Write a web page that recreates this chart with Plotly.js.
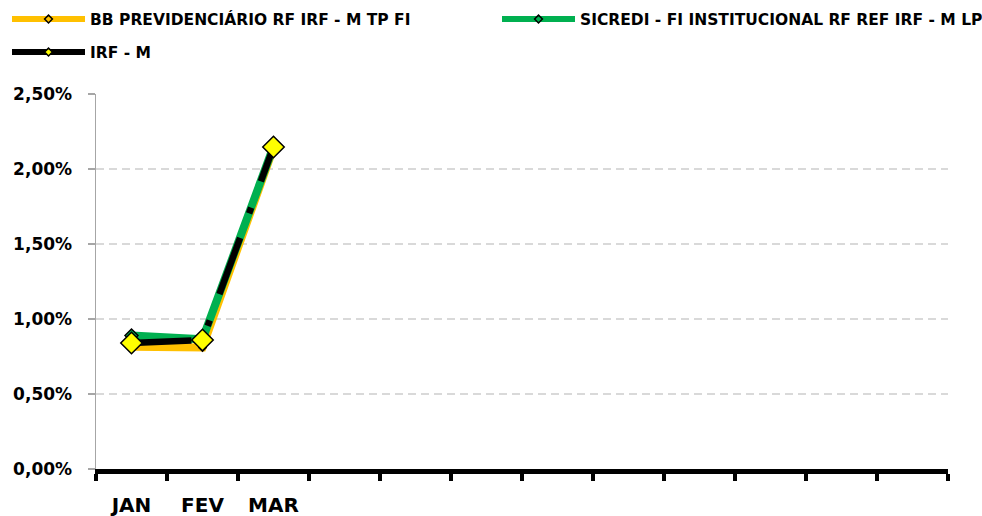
<!DOCTYPE html>
<html><head><meta charset="utf-8">
<script src="https://cdn.plot.ly/plotly-3.0.1.min.js"></script>
<style>html,body{margin:0;padding:0;background:#fff}#chart{width:982px;height:516px}</style>
</head><body><div id="chart"></div>
<script>
const months = ['JAN','FEV','MAR','ABR','MAI','JUN','JUL','AGO','SET','OUT','NOV','DEZ'];
const tickLabels = ['JAN','FEV','MAR','','','','','','','','',''];
const dataMonths = ['JAN','FEV','MAR'];
const bbPrev = [0.00815, 0.0081, 0.0214];
const sicredi = [0.0089, 0.00865, 0.0215];
const irfM = [0.0084, 0.0086, 0.02147];
const seriesNames = ['BB PREVIDENCIÁRIO RF IRF - M TP FI', 'SICREDI - FI INSTITUCIONAL RF REF IRF - M LP', 'IRF - M'];
const yTicks = [0, 0.005, 0.01, 0.015, 0.02, 0.025];

const colors = ['#FFC000', '#00B050', '#000000'];
const markerFill = ['#FFC000', '#00B050', '#FFFF00'];
const dashIRF = '60px,26px,6px,28px';

const traces = [
  {x: dataMonths, y: bbPrev, name: seriesNames[0], mode: 'lines+markers', showlegend: false,
   line: {color: colors[0], width: 8},
   marker: {symbol: 'diamond', size: 6, color: markerFill[0], line: {color: '#000', width: 1.2}}},
  {x: dataMonths, y: sicredi, name: seriesNames[1], mode: 'lines+markers', showlegend: false,
   line: {color: colors[1], width: 8},
   marker: {symbol: 'diamond', size: 10, color: markerFill[1], line: {color: '#000', width: 1.5}}},
  {x: dataMonths, y: irfM, name: seriesNames[2], mode: 'lines+markers', showlegend: false,
   line: {color: colors[2], width: 6.5, dash: dashIRF},
   marker: {symbol: 'diamond', size: 16.5, color: markerFill[2], line: {color: '#000', width: 1.5}}}
];
// legend entries (no data drawn)
const legendIds = ['legend', 'legend2', 'legend3'];
for (let i = 0; i < 3; i++) {
  traces.push({x: [null], y: [null], name: seriesNames[i], mode: 'lines+markers', legend: legendIds[i],
    line: {color: colors[i], width: 6},
    marker: {symbol: 'diamond', size: 6, color: markerFill[i], line: {color: '#000', width: 1.5}},
    hoverinfo: 'skip'});
}

const legFont = {family: 'DejaVu Sans', size: 15.5, color: '#000', weight: 'bold'};
function leg(xpx, ypx) {
  return {xref: 'container', yref: 'container', x: xpx / 982, y: 1 - ypx / 516, xanchor: 'left', yanchor: 'middle',
    orientation: 'h', itemwidth: 73, font: legFont, bgcolor: 'rgba(0,0,0,0)', borderwidth: 0,
    itemclick: false, itemdoubleclick: false};
}

const layout = {
  width: 982, height: 516,
  margin: {l: 96, r: 34, t: 94, b: 47},
  paper_bgcolor: '#ffffff', plot_bgcolor: '#ffffff',
  separators: ',.',
  font: {family: 'DejaVu Sans', color: '#000'},
  showlegend: true,
  legend: leg(7, 19.5),
  legend2: leg(497, 19.5),
  legend3: leg(7, 52.5),
  xaxis: {type: 'category', categoryorder: 'array', categoryarray: months,
    tickmode: 'array', tickvals: months, ticktext: tickLabels, tickson: 'boundaries',
    range: [-0.5, 11.5], showgrid: false, zeroline: false,
    showline: true, linecolor: '#000', linewidth: 4.5,
    ticks: 'outside', ticklen: 7, tickwidth: 4, tickcolor: '#000',
    tickfont: {family: 'DejaVu Sans', size: 20, color: '#000', weight: 'bold'},
    ticklabelstandoff: 14, fixedrange: true},
  yaxis: {range: [0, 0.025], tickmode: 'array', tickvals: yTicks, tickformat: '.2%',
    showgrid: true, gridcolor: '#d9d9d9', gridwidth: 1.5, griddash: '8px,5px',
    zeroline: false, showline: true, linecolor: '#a6a6a6', linewidth: 1.5,
    ticks: 'outside', ticklen: 7, tickwidth: 1.5, tickcolor: '#a6a6a6',
    tickfont: {family: 'DejaVu Sans', size: 17, color: '#000', weight: 'bold'},
    ticklabelstandoff: 12, fixedrange: true}
};

Plotly.newPlot('chart', traces, layout, {displayModeBar: false, staticPlot: true});
</script>
</body></html>
